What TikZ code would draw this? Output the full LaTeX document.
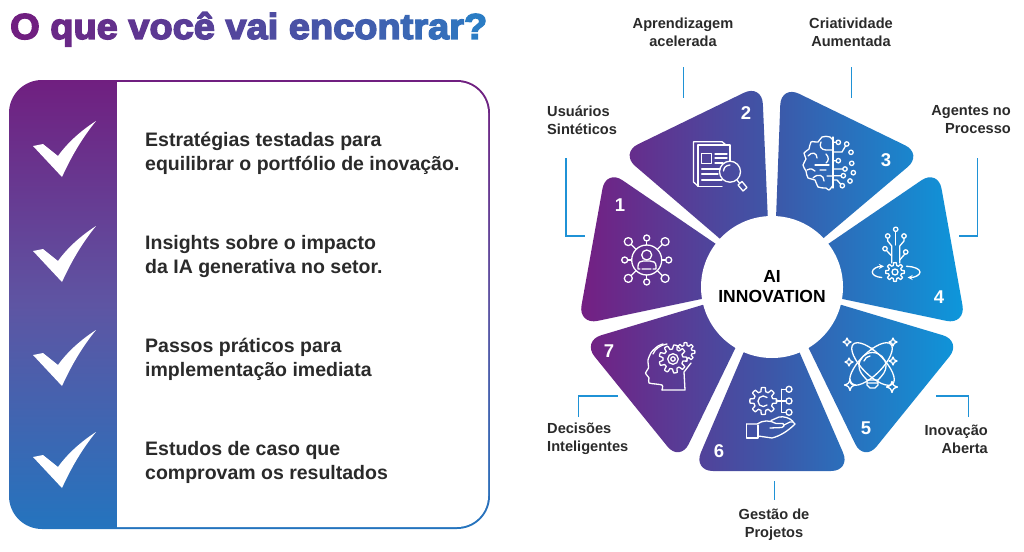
\documentclass[tikz,border=0pt]{standalone}
\usepackage{fontspec}
\setmainfont{Liberation Sans}
\newfontfamily\titlefont[FakeBold=4, FakeStretch=1.055]{Liberation Sans}
\usetikzlibrary{positioning}
\definecolor{cardtop}{HTML}{701F80}
\definecolor{cardmid}{HTML}{5E55A3}
\definecolor{cardend}{HTML}{2474BE}
\definecolor{wedgeA}{HTML}{751E82}
\definecolor{wedgeB}{HTML}{3D57A8}
\definecolor{wedgeC}{HTML}{0C98DC}
\definecolor{leaderblue}{HTML}{1F92D6}
\definecolor{bodytext}{HTML}{2A2A2A}
\definecolor{titleA}{HTML}{701F80}
\definecolor{titleB}{HTML}{2A7CC4}
\newcommand{\tl}[2]{\textcolor{titleB!#1!titleA}{#2}}
\newcommand{\geartool}[5][0:360]{\draw[iconline,shift={(#2,#3)}] plot[domain=#1,samples=121] (\x:{#4*(1+.17*max(-1,min(1,3*cos(#5*\x))))});}
\newcommand{\sparkle}[3]{\draw[iconline] (#1,#2-#3) .. controls (#1+.25*#3,#2-.25*#3) .. (#1+#3,#2) .. controls (#1+.25*#3,#2+.25*#3) .. (#1,#2+#3) .. controls (#1-.25*#3,#2+.25*#3) .. (#1-#3,#2) .. controls (#1-.25*#3,#2-.25*#3) .. (#1,#2-#3) -- cycle;}
\tikzset{
    iconline/.style={draw=white, line width=1.3pt, line cap=round, line join=round},
    leader/.style={draw=leaderblue, line width=1.7pt},
    seglabel/.style={font={\fontsize{14.6}{18}\selectfont\bfseries}, text=bodytext, inner sep=0pt},
    bodyitem/.style={font={\fontsize{19.5}{24}\selectfont\bfseries}, text=bodytext, inner sep=0pt, anchor=west, align=left},
    wedgenum/.style={font={\fontsize{18.5}{18}\selectfont\bfseries}, text=white, inner sep=0pt},
    tick/.pic={\fill[white] (33,146) -- (43,144) -- (58,156) .. controls (68,142) and (82,130) .. (96,121) .. controls (83,137) and (72,155) .. (62,177) -- cycle;}
}
\begin{document}
\begin{tikzpicture}[>=stealth, x=1pt, y=-1pt]
    \useasboundingbox (0,0) rectangle (1024,551);
    \node[anchor=base west, inner sep=0pt, font={\fontsize{36}{36}\selectfont\titlefont\bfseries}] (title) at (10,39) {\tl{0}{O} \tl{10}{q}\tl{14}{u}\tl{18}{e} \tl{24}{v}\tl{28}{o}\tl{32}{c}\tl{36}{ê} \tl{42}{v}\tl{46}{a}\tl{49}{i} \tl{54}{e}\tl{59}{n}\tl{63}{c}\tl{68}{o}\tl{72}{n}\tl{77}{t}\tl{81}{r}\tl{85}{a}\tl{90}{r}\tl{100}{?}};

    \shade[rounded corners=33pt, top color=cardtop, bottom color=cardend, middle color=cardmid] (9,80) rectangle (490,529);
    \fill[white] (117,82) [rounded corners=31pt] -- (488,82) -- (488,527) [sharp corners] -- (117,527) -- cycle;
    \foreach \y in {0,105,209,311} \pic[yshift=-\y pt] {tick};
    \node[bodyitem] (itemA) at (145,153) {Estratégias testadas para\\equilibrar o portfólio de inovação.};
    \node[bodyitem] (itemB) at (145,256) {Insights sobre o impacto\\da IA generativa no setor.};
    \node[bodyitem] (itemC) at (145,359) {Passos práticos para\\implementação imediata};
    \node[bodyitem] (itemD) at (145,462) {Estudos de caso que\\comprovam os resultados};

    \begin{scope}
        \clip[rounded corners=20pt]
            (606,169) -- (735,257) -- (730,293) -- (578,325) -- cycle
            (762,84) -- (769,245) -- (740,256) -- (620,153) -- cycle
            (781,85) -- (923,154) -- (800,258) -- (775,245) -- cycle
            (938,169) -- (966,325) -- (814,293) -- (809,257) -- cycle
            (962,341) -- (864,462) -- (795,320) -- (815,297) -- cycle
            (693,471) -- (751,335) -- (792,335) -- (851,471) -- cycle
            (582,341) -- (729,297) -- (749,320) -- (680,462) -- cycle;
        \shade[left color=wedgeA, right color=wedgeC, middle color=wedgeB] (578,80) rectangle (966,475);
    \end{scope}
    \node[circle, fill=white, minimum size=142pt, inner sep=0pt] (hub) at (772,287) {};
    \node[font={\fontsize{17.5}{20}\selectfont\bfseries}, align=center, inner sep=0pt, text=black] (hubtext) at (772,287) {AI\\INNOVATION};

    \node[wedgenum] (numA) at (620,205) {1};
    \node[wedgenum] (numB) at (746,113) {2};
    \node[wedgenum] (numC) at (886,160) {3};
    \node[wedgenum] (numD) at (939,297) {4};
    \node[wedgenum] (numE) at (866,428) {5};
    \node[wedgenum] (numF) at (719,451) {6};
    \node[wedgenum] (numG) at (609,351) {7};

    \node[seglabel, anchor=west, align=left] (usuarios) at (547,120) {Usuários\\Sintéticos};
    \node[seglabel, align=center] (aprendizagem) at (683,32) {Aprendizagem\\acelerada};
    \node[seglabel, align=center] (criatividade) at (851,32) {Criatividade\\Aumentada};
    \node[seglabel, anchor=east, align=right] (agentes) at (1011,120) {Agentes no\\Processo};
    \node[seglabel, anchor=east, align=right] (inovacao) at (988,439) {Inovação\\Aberta};
    \node[seglabel, align=center] (gestao) at (774,525) {Gestão de\\Projetos};
    \node[seglabel, anchor=west, align=left] (decisoes) at (547,439) {Decisões\\Inteligentes};

    \coordinate (usuariosA) at (566,158);
    \coordinate (usuariosB) at (585,236);
    \coordinate (aprendizagemA) at (683.5,67);
    \coordinate (aprendizagemB) at (683.5,98);
    \coordinate (criatividadeA) at (851.5,67);
    \coordinate (criatividadeB) at (851.5,98);
    \coordinate (agentesA) at (977.5,158);
    \coordinate (agentesB) at (959,236);
    \coordinate (inovacaoA) at (968.5,417);
    \coordinate (inovacaoB) at (936,396);
    \coordinate (gestaoA) at (774.5,481);
    \coordinate (gestaoB) at (774.5,500);
    \coordinate (decisoesA) at (578.5,417);
    \coordinate (decisoesB) at (618,396);
    \draw[leader] (usuariosA) |- (usuariosB);
    \draw[leader] (aprendizagemA) -- (aprendizagemB);
    \draw[leader] (criatividadeA) -- (criatividadeB);
    \draw[leader] (agentesA) |- (agentesB);
    \draw[leader] (inovacaoA) |- (inovacaoB);
    \draw[leader] (gestaoA) -- (gestaoB);
    \draw[leader] (decisoesA) |- (decisoesB);

    \draw[iconline] (646.7,260) circle (15);
    \foreach \a in {0,90,180,270} {
        \draw[iconline] (646.7,260) ++(\a:15) -- ++(\a:4);
        \draw[iconline] (646.7,260) ++(\a:22) circle (3);
    }
    \foreach \a in {45,135,225,315} {
        \draw[iconline] (646.7,260) ++(\a:15) -- ++(\a:7);
        \draw[iconline] (646.7,260) ++(\a:26) circle (4);
    }
    \draw[iconline] (646.7,255) circle (5);
    \draw[iconline] (640,269) -- (638,269) -- (638,266) .. controls (638,262) and (641,261) .. (643,261) -- (650,261) .. controls (653,261) and (656,262) .. (656,266) -- (656,269) -- (653,269) (642,269) -- (651,269);

    \draw[iconline] (698,186) -- (693.5,182) -- (693.5,141.7) -- (722,141.7) -- (726,145);
    \draw[iconline] (722,186.7) -- (698,186.7) -- (698,145) -- (730,145) -- (730,161);
    \draw[iconline] (701.7,153.3) rectangle (711.7,163.3);
    \draw[iconline] (715,154) -- (727,154) (715,158) -- (727,158) (715,163) -- (723,163);
    \draw[iconline] (701.7,169) -- (720,169) (701.7,174) -- (718,174) (701.7,180) -- (722,180);
    \draw[iconline] (730,171.7) circle (10.5);
    \draw[iconline] (723.5,171) .. controls (724,167) and (726,165.5) .. (730,165);
    \draw[iconline] (737,180) -- (739,182.5) (738,185) -- (742,181.5) -- (747,187.5) -- (743,191) -- cycle;

    \draw[iconline] plot[smooth, tension=.7] coordinates {(833,141) (830,137) (822,137) (818,142) (811,142) (809,149) (804,153) (806,159) (803,165) (806,171) (808,178) (815,180) (818,187) (826,188) (829,190) (833,185)};
    \draw[iconline] (833,137) -- (833,188);
    \draw[iconline] (833,150) -- (826,150) .. controls (821,150) and (819,146) .. (821,142);
    \draw[iconline] (808,156) .. controls (812,151) and (817,153) .. (817,158);
    \draw[iconline] (826,154) .. controls (829,157) and (829,161) .. (826,163);
    \draw[iconline] (815,165) -- (829,165);
    \draw[iconline] (807,170) .. controls (811,168) and (813,169) .. (815,171) (820,170) -- (826,170);
    \draw[iconline] (813,178) .. controls (818,173) and (824,175) .. (824,181) (827,176) -- (833,176);
    \foreach \px/\py in {838.3/142.3, 846.7/144, 851/152.3, 851.7/163.3, 838.3/160.7, 845/169, 853.3/172.7, 843.3/175.7, 850/181, 842.3/185.7}
        \draw[iconline] (\px,\py) circle (2.2);
    \draw[iconline] (833,142.3) -- (836.1,142.3) (833,152) -- (842,152) -- (845.5,146) (833,160.7) -- (836.1,160.7) (833,169) -- (842.8,169) (833,175.7) -- (841.1,175.7) (833,180) -- (837,180) -- (840.5,184);

    \draw[iconline] (895.7,231.5) -- (895.7,245);
    \foreach \px/\py in {895.7/229.3, 887.7/236, 904/236, 885/248.7, 905.7/252}
        \draw[iconline] (\px,\py) circle (2.2);
    \draw[iconline] (887.7,238.2) -- (887.7,241) -- (891.7,246) -- (891.7,263);
    \draw[iconline] (904,238.2) -- (904,241) -- (899.7,246) -- (899.7,263);
    \draw[iconline] (886.5,250.5) -- (891.7,256);
    \draw[iconline] (904.8,254) -- (899.7,260);
    \geartool{895}{272}{8}{8}
    \draw[iconline] (895,272) circle (3);
    \draw[iconline, ->] (881.7,277.5) .. controls (876,277) and (872.3,275) .. (872.3,272) .. controls (872.3,269) and (877,266.5) .. (884,266.3);
    \draw[iconline, ->] (906.5,266.3) .. controls (914,266.5) and (920,269) .. (920,272) .. controls (920,275) and (915,277.5) .. (907.5,277.5);

    \draw[iconline] (867,380) .. controls (862,375) and (859,371) .. (859,366) .. controls (859,358.5) and (865,352.5) .. (872.5,352.5) .. controls (880,352.5) and (886,358.5) .. (886,366) .. controls (886,371) and (883,375) .. (878,380);
    \draw[iconline] (867,380) -- (867,385) -- (870,388) -- (875,388) -- (878,385) -- (878,380) -- cycle (867,383) -- (878,383);
    \draw[iconline] (864,361) .. controls (865,358) and (867,356.5) .. (870,356);
    \draw[iconline, rotate around={45:(871,364)}] (871,364) ellipse (28 and 11);
    \draw[iconline, rotate around={-45:(873,364)}] (873,364) ellipse (28 and 11);
    \draw[iconline] (872,348) -- (872,350);
    \foreach \px/\py/\pr in {847/342/4, 893/342/4, 849/362/4, 893/361/4, 850/385/5.5, 892/387/5.5} {
        \sparkle{\px}{\py}{\pr}
    }

    \geartool{763.3}{401}{11.5}{8}
    \draw[iconline] (767,405) arc (45:315:5.3);
    \draw[iconline] (776,401) -- (786,401) (781.7,389.3) -- (781.7,412.3) (781.7,389.3) -- (786,389.3) (781.7,412.3) -- (786,412.3);
    \foreach \py in {389.3,401,412.3}
        \draw[iconline] (789,\py) circle (3);
    \draw[iconline] (746.7,424) -- (746.7,438) -- (758,438) -- (758,425);
    \draw[iconline] (746.7,424) -- (757,424) .. controls (763,420) and (770,420) .. (776,423.5) -- (783,423.5) .. controls (785,425) and (784,427) .. (782,427.5) -- (770,428);
    \draw[iconline] (758,436) -- (772,438) .. controls (780,436) and (788,431) .. (795,424) .. controls (794,422) and (792,421) .. (790,422) -- (784,425);
    \draw[iconline] (771,420.5) -- (779,417) .. controls (784,416) and (790,418) .. (793,421.5);

    \geartool[210:450]{685.5}{352}{8}{8}
    \geartool{673}{359}{12}{9}
    \draw[iconline] (673,359) circle (5.3) (673,359) circle (2.2);
    \draw[iconline] plot[smooth, tension=.4] coordinates {(662,390) (662,385) (649,383) (649,378) (645.5,373) (648.5,368) (648,360) (651.5,352) (658,346) (663,344)};
    \draw[iconline] (662,390) -- (685,390) -- (684,372) -- (691,363);
    \draw[iconline] (653,354) .. controls (655,349) and (660,345) .. (667,344);
\end{tikzpicture}
\end{document}
